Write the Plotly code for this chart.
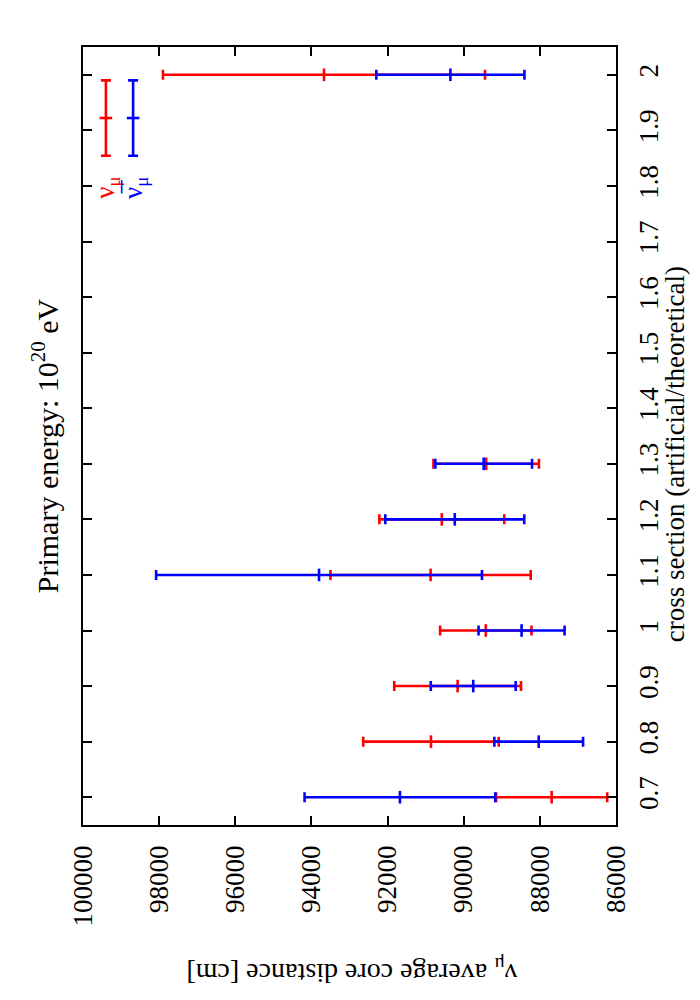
import plotly.graph_objects as go

# cross section factor (artificial/theoretical)
cross = [0.7, 0.8, 0.9, 1.0, 1.1, 1.2, 1.3, 2.0]

# nu_mu average core distance [cm] and its error
nu_mean = [87690, 90860, 90160, 89420, 90870, 90575, 89410, 93670]
nu_err = [1460, 1780, 1665, 1200, 2630, 1640, 1385, 4230]

# anti nu_mu
nubar_mean = [91675, 88030, 89750, 88480, 93800, 90235, 89475, 90350]
nubar_err = [2505, 1165, 1115, 1130, 4280, 1825, 1270, 1945]

dist_ticks = [100000, 98000, 96000, 94000, 92000, 90000, 88000, 86000]

RED = "#ff0000"
BLUE = "#0000ff"
FONT = "Liberation Serif"


def errbar_trace(x, y, err, color, horizontal=True, xaxis="x", yaxis="y"):
    eb = dict(type="data", array=err, symmetric=True, color=color,
              thickness=2.6, width=5)
    tr = go.Scatter(
        x=x, y=y, mode="markers", xaxis=xaxis, yaxis=yaxis,
        marker=dict(symbol="line-ns" if horizontal else "line-ew", size=9,
                    line=dict(color=color, width=2.6)),
        showlegend=False, hoverinfo="skip",
    )
    if horizontal:
        tr.error_x = eb
    else:
        tr.error_y = eb
    return tr


fig = go.Figure()
fig.add_trace(errbar_trace(nu_mean, cross, nu_err, RED))
fig.add_trace(errbar_trace(nubar_mean, cross, nubar_err, BLUE))

# hand made key (drawn on an overlay axis spanning the frame)
fig.add_trace(errbar_trace([0.043], [0.9087], [0.0484], RED, False, "x2", "y2"))
fig.add_trace(errbar_trace([0.094], [0.9087], [0.0484], BLUE, False, "x2", "y2"))

axis_common = dict(
    showgrid=False, zeroline=False, showline=True, mirror="ticks",
    linecolor="black", linewidth=1.5, ticks="inside", ticklen=9,
    tickwidth=1.5, tickcolor="black", tickangle=-90, ticklabelstandoff=8,
    tickfont=dict(family=FONT, size=27, color="black"),
)

# page body has an 8px margin, so the figure is smaller than the window
fig.update_layout(
    width=684, height=984,
    margin=dict(l=75, r=76, t=39, b=167),
    plot_bgcolor="white", paper_bgcolor="white",
    xaxis=dict(range=[100000, 86000], tickvals=dist_ticks,
               ticktext=[str(v) for v in dist_ticks], **axis_common),
    yaxis=dict(range=[0.65, 2.05], dtick=0.1, side="right", **axis_common),
    xaxis2=dict(range=[0, 1], overlaying="x", visible=False),
    yaxis2=dict(range=[0, 1], overlaying="y", visible=False),
    font=dict(family=FONT, color="black"),
)


def label(text, x, y, angle, size, color="black"):
    fig.add_annotation(text=text, textangle=angle, xref="paper", yref="paper",
                       x=x, y=y, xanchor="center", yanchor="middle",
                       showarrow=False, font=dict(family=FONT, size=size, color=color))


# title and axis labels (page is rotated, so the text is too)
label("Primary energy: 10<sup>20</sup> eV", -0.071, 0.487, -90, 30)
label("ν<sub>μ</sub> average core distance [cm]", 0.505, -0.189, 180, 28)
label("cross section (artificial/theoretical)", 1.11, 0.476, -90, 27)

# key labels
label("ν<sub>μ</sub>", 0.045, 0.819, -90, 27, RED)
label("ν\u0305<sub>μ</sub>", 0.098, 0.819, -90, 27, BLUE)

fig.write_html("out.html")
